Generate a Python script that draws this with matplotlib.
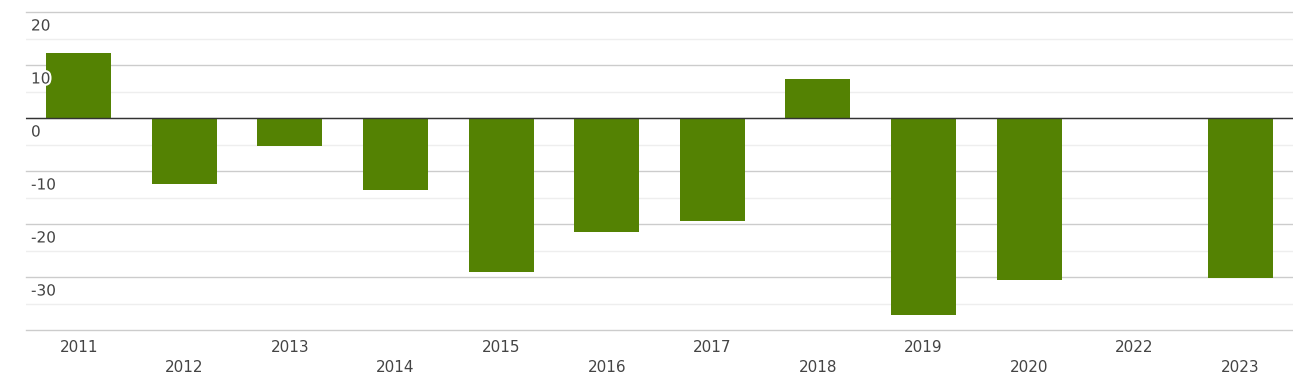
import matplotlib
matplotlib.use('Agg')
import matplotlib.pyplot as plt
import matplotlib.patheffects as pe
import numpy as np

years = ["2011", "2012", "2013", "2014", "2015", "2016", "2017", "2018", "2019", "2020", "2022", "2023"]
values = [12.3, -12.5, -5.3, -13.6, -29.1, -21.5, -19.4, 7.4, -37.2, -30.6, 0.0, -30.2]
y_ticks = [20, 10, 0, -10, -20, -30]

BAR_COLOR = "#548203"
TEXT_COLOR = "#444444"

fig = plt.figure(figsize=(12.93, 3.84), dpi=100)
ax = fig.add_axes([26 / 1293, 1 - 330 / 384, 1 - 26 / 1293, (330 - 12) / 384])

x = np.arange(len(years))
ax.bar(x, values, width=0.615, color=BAR_COLOR, zorder=3)

ax.set_xlim(-0.5, len(years) - 0.5)
ax.set_ylim(-40, 20)

# gridlines: major every 10, minor every 5
for v in range(-40, 21, 10):
    ax.axhline(v, color="#cccccc", linewidth=1, zorder=1, clip_on=False)
for v in range(-35, 20, 10):
    ax.axhline(v, color="#eeeeee", linewidth=1, zorder=1)
ax.axhline(0, color="#333333", linewidth=1, zorder=4)

for s in ax.spines.values():
    s.set_visible(False)
ax.set_xticks([])
ax.set_yticks([])

outline = [pe.withStroke(linewidth=3, foreground="white")]
for v in y_ticks:
    ax.annotate(str(v), xy=(0, v), xycoords=("axes fraction", "data"),
                xytext=(5, -14), textcoords="offset pixels",
                ha="left", va="center", fontsize=11, color=TEXT_COLOR,
                path_effects=outline, zorder=5)

for i, lab in enumerate(years):
    off = -18 if i % 2 == 0 else -38
    ax.annotate(lab, xy=(i, 0), xycoords=("data", "axes fraction"),
                xytext=(0, off), textcoords="offset pixels",
                ha="center", va="center", fontsize=11, color=TEXT_COLOR,
                annotation_clip=False)

fig.savefig("out.png", dpi=100)
